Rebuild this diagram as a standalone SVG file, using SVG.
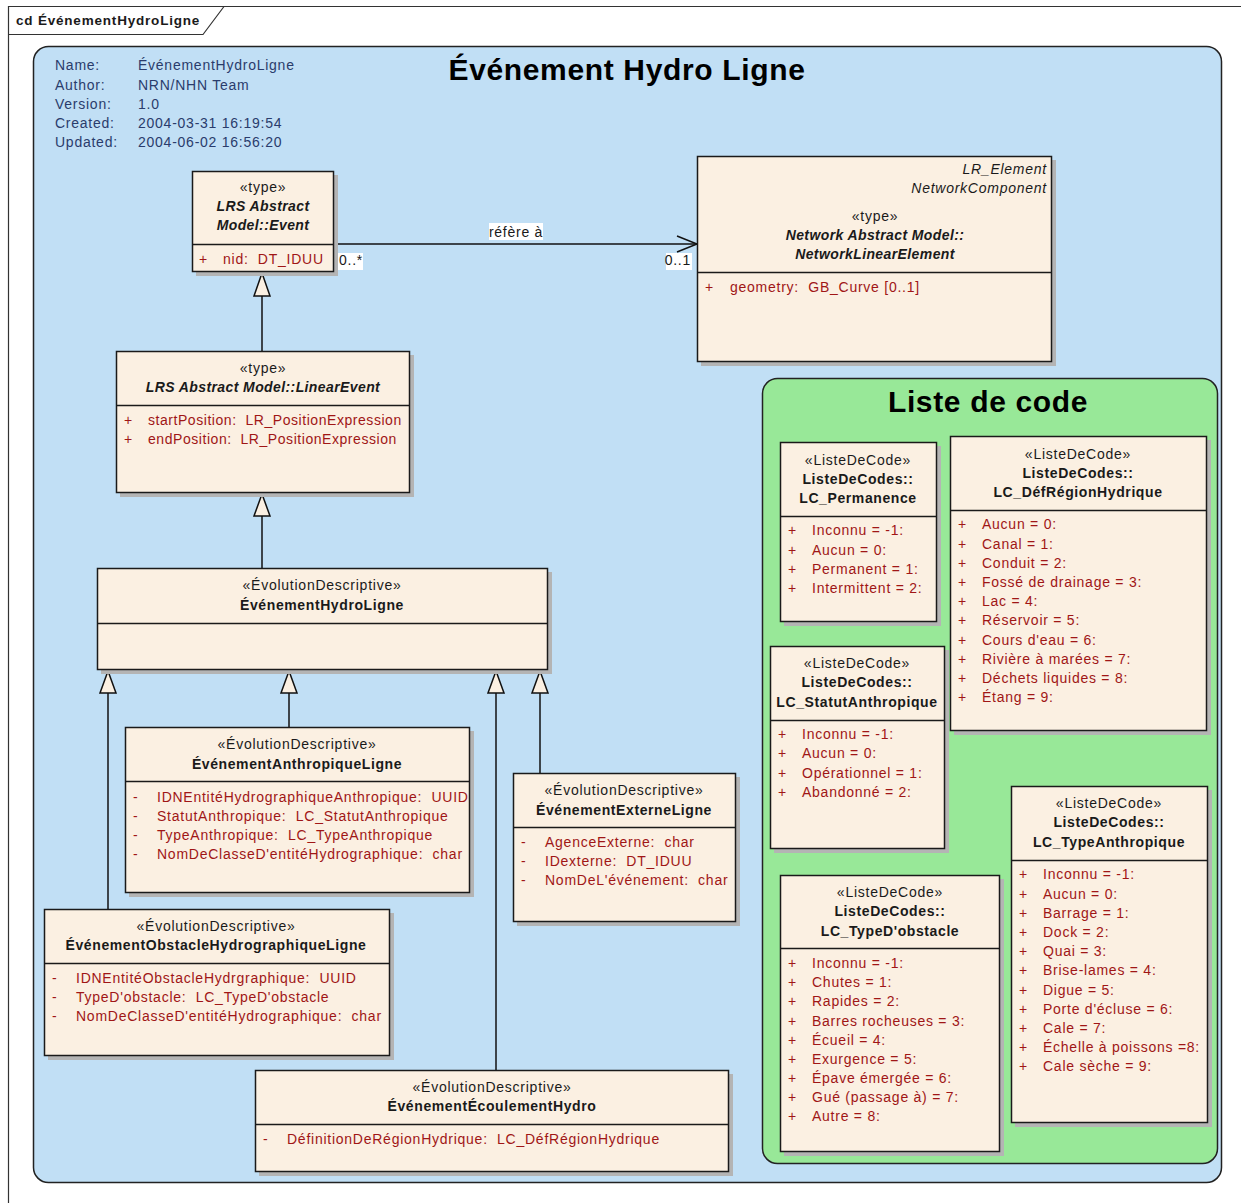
<svg xmlns="http://www.w3.org/2000/svg" width="1241" height="1203" viewBox="0 0 1241 1203">
<style>
text{font-family:"Liberation Sans",Arial,sans-serif;font-size:14px;fill:#1a1a1a;white-space:pre;letter-spacing:0.75px}
.meta{fill:#2a3c6c}
.ttl{font-size:30px;font-weight:bold;fill:#000;letter-spacing:0.65px}
.c{text-anchor:middle}
.r{text-anchor:end}
.b{font-weight:bold;letter-spacing:0.6px}
.bi{font-weight:bold;font-style:italic;letter-spacing:0.4px}
.i{font-style:italic}
.a{fill:#a01616}
.tight{letter-spacing:0.55px}
.box{fill:#fbf0e2;stroke:#1a1a1a;stroke-width:1.5}
.sh{fill:#b4b4b4}
.div{stroke:#1a1a1a;stroke-width:1.5}
.ln{stroke:#111;stroke-width:1.5;fill:none}
.tri{fill:#fbf0e2;stroke:#111;stroke-width:1.5}
.lbl{fill:#fff}
</style>
<rect x="0" y="0" width="1241" height="1203" fill="#fff"/>
<!-- frame -->
<g id="frame">
<path d="M8.5,1203 V6.5 H1241" fill="none" stroke="#333" stroke-width="1.2"/>
<path d="M8.5,34.5 H203 L224,6.5" fill="none" stroke="#333" stroke-width="1.2"/>
<text x="16" y="25" class="b" style="font-size:13.5px;letter-spacing:0.8px">cd ÉvénementHydroLigne</text>
</g>
<!-- panels -->
<g id="panel-blue">
<rect x="33.5" y="46.5" width="1188" height="1136" rx="15" fill="#c1dff5" stroke="#222" stroke-width="1.5"/>
<text x="627" y="80" class="ttl c">Événement Hydro Ligne</text>
<text x="55" y="70" class="meta">Name:</text><text x="138" y="70" class="meta">ÉvénementHydroLigne</text>
<text x="55" y="90" class="meta">Author:</text><text x="138" y="90" class="meta">NRN/NHN Team</text>
<text x="55" y="109" class="meta">Version:</text><text x="138" y="109" class="meta">1.0</text>
<text x="55" y="128" class="meta">Created:</text><text x="138" y="128" class="meta">2004-03-31 16:19:54</text>
<text x="55" y="147" class="meta">Updated:</text><text x="138" y="147" class="meta">2004-06-02 16:56:20</text>
</g>
<g id="panel-green">
<rect x="762.5" y="378.5" width="455" height="785" rx="15" fill="#98e898" stroke="#222" stroke-width="1.5"/>
<text x="988" y="412" class="ttl c">Liste de code</text>
</g>
<!-- connectors -->
<g id="connectors">
<line x1="334" y1="244" x2="697" y2="244" class="ln"/>
<polyline points="677,236 697,244 677,252" class="ln"/>
<rect x="489" y="223" width="54" height="17" class="lbl"/>
<text x="516" y="237" class="c">réfère à</text>
<rect x="338" y="253" width="25" height="17" class="lbl"/>
<text x="339" y="265">0..*</text>
<rect x="666" y="253" width="26" height="17" class="lbl"/>
<text x="691" y="265" class="r">0..1</text>
<line x1="262" y1="296" x2="262" y2="351" class="ln"/>
<polygon points="262,273 254,296 270,296" class="tri"/>
<line x1="262" y1="516" x2="262" y2="568" class="ln"/>
<polygon points="262,494 254,516 270,516" class="tri"/>
<line x1="108" y1="693" x2="108" y2="909" class="ln"/>
<polygon points="108,671 100,693 116,693" class="tri"/>
<line x1="289" y1="693" x2="289" y2="727" class="ln"/>
<polygon points="289,671 281,693 297,693" class="tri"/>
<line x1="496" y1="693" x2="496" y2="1070" class="ln"/>
<polygon points="496,671 488,693 504,693" class="tri"/>
<line x1="540" y1="693" x2="540" y2="773" class="ln"/>
<polygon points="540,671 532,693 548,693" class="tri"/>
</g>
<!-- nodes -->
<g id="event">
<rect x="196" y="175" width="142" height="101" class="sh"/>
<rect x="192.5" y="171.5" width="141" height="100" class="box"/>
<line x1="192.5" y1="244.5" x2="333.5" y2="244.5" class="div"/>
<text x="263" y="192" class="c">«type»</text>
<text x="263" y="211" class="c bi">LRS Abstract</text>
<text x="263" y="230" class="c bi">Model::Event</text>
<text x="199" y="264" class="a">+</text><text x="223" y="264" class="a">nid:  DT_IDUU</text>
</g>
<g id="network-linear-element">
<rect x="701" y="160" width="355" height="206" class="sh"/>
<rect x="697.5" y="156.5" width="354" height="205" class="box"/>
<line x1="697.5" y1="272.5" x2="1051.5" y2="272.5" class="div"/>
<text x="1047" y="174" class="r i">LR_Element</text>
<text x="1047" y="193" class="r i">NetworkComponent</text>
<text x="875" y="221" class="c">«type»</text>
<text x="875" y="240" class="c bi">Network Abstract Model::</text>
<text x="875" y="259" class="c bi">NetworkLinearElement</text>
<text x="705" y="292" class="a">+</text><text x="730" y="292" class="a">geometry:  GB_Curve [0..1]</text>
</g>
<g id="linear-event">
<rect x="120" y="355" width="294" height="142" class="sh"/>
<rect x="116.5" y="351.5" width="293" height="141" class="box"/>
<line x1="116.5" y1="405.5" x2="409.5" y2="405.5" class="div"/>
<text x="263" y="373" class="c">«type»</text>
<text x="263" y="392" class="c bi">LRS Abstract Model::LinearEvent</text>
<text x="124" y="425" class="a">+</text><text x="148" y="425" class="a tight">startPosition:  LR_PositionExpression</text>
<text x="124" y="444" class="a">+</text><text x="148" y="444" class="a tight">endPosition:  LR_PositionExpression</text>
</g>
<g id="evenement-hydro-ligne">
<rect x="101" y="572" width="451" height="102" class="sh"/>
<rect x="97.5" y="568.5" width="450" height="101" class="box"/>
<line x1="97.5" y1="623.5" x2="547.5" y2="623.5" class="div"/>
<text x="322" y="590" class="c">«ÉvolutionDescriptive»</text>
<text x="322" y="610" class="c b">ÉvénementHydroLigne</text>
</g>
<g id="evenement-anthropique-ligne">
<rect x="129" y="731" width="345" height="166" class="sh"/>
<rect x="125.5" y="727.5" width="344" height="165" class="box"/>
<line x1="125.5" y1="781.5" x2="469.5" y2="781.5" class="div"/>
<text x="297" y="749" class="c">«ÉvolutionDescriptive»</text>
<text x="297" y="769" class="c b">ÉvénementAnthropiqueLigne</text>
<text x="133" y="802" class="a">-</text><text x="157" y="802" class="a">IDNEntitéHydrographiqueAnthropique:  UUID</text>
<text x="133" y="821" class="a">-</text><text x="157" y="821" class="a">StatutAnthropique:  LC_StatutAnthropique</text>
<text x="133" y="840" class="a">-</text><text x="157" y="840" class="a">TypeAnthropique:  LC_TypeAnthropique</text>
<text x="133" y="859" class="a">-</text><text x="157" y="859" class="a">NomDeClasseD'entitéHydrographique:  char</text>
</g>
<g id="evenement-externe-ligne">
<rect x="517" y="777" width="223" height="149" class="sh"/>
<rect x="513.5" y="773.5" width="222" height="148" class="box"/>
<line x1="513.5" y1="827.5" x2="735.5" y2="827.5" class="div"/>
<text x="624" y="795" class="c">«ÉvolutionDescriptive»</text>
<text x="624" y="815" class="c b">ÉvénementExterneLigne</text>
<text x="521" y="847" class="a">-</text><text x="545" y="847" class="a">AgenceExterne:  char</text>
<text x="521" y="866" class="a">-</text><text x="545" y="866" class="a">IDexterne:  DT_IDUU</text>
<text x="521" y="885" class="a">-</text><text x="545" y="885" class="a">NomDeL'événement:  char</text>
</g>
<g id="evenement-obstacle-hydrographique-ligne">
<rect x="48" y="913" width="346" height="147" class="sh"/>
<rect x="44.5" y="909.5" width="345" height="146" class="box"/>
<line x1="44.5" y1="963.5" x2="389.5" y2="963.5" class="div"/>
<text x="216" y="931" class="c">«ÉvolutionDescriptive»</text>
<text x="216" y="950" class="c b">ÉvénementObstacleHydrographiqueLigne</text>
<text x="52" y="983" class="a">-</text><text x="76" y="983" class="a">IDNEntitéObstacleHydrgraphique:  UUID</text>
<text x="52" y="1002" class="a">-</text><text x="76" y="1002" class="a">TypeD'obstacle:  LC_TypeD'obstacle</text>
<text x="52" y="1021" class="a">-</text><text x="76" y="1021" class="a">NomDeClasseD'entitéHydrographique:  char</text>
</g>
<g id="evenement-ecoulement-hydro">
<rect x="259" y="1074" width="474" height="102" class="sh"/>
<rect x="255.5" y="1070.5" width="473" height="101" class="box"/>
<line x1="255.5" y1="1124.5" x2="728.5" y2="1124.5" class="div"/>
<text x="492" y="1092" class="c">«ÉvolutionDescriptive»</text>
<text x="492" y="1111" class="c b">ÉvénementÉcoulementHydro</text>
<text x="263" y="1144" class="a">-</text><text x="287" y="1144" class="a">DéfinitionDeRégionHydrique:  LC_DéfRégionHydrique</text>
</g>
<g id="lc-permanence">
<rect x="784" y="446" width="157" height="180" class="sh"/>
<rect x="780.5" y="442.5" width="156" height="179" class="box"/>
<line x1="780.5" y1="516.5" x2="936.5" y2="516.5" class="div"/>
<text x="858" y="465" class="c">«ListeDeCode»</text>
<text x="858" y="484" class="c b">ListeDeCodes::</text>
<text x="858" y="503" class="c b">LC_Permanence</text>
<text x="788" y="535" class="a">+</text><text x="812" y="535" class="a">Inconnu = -1:</text>
<text x="788" y="555" class="a">+</text><text x="812" y="555" class="a">Aucun = 0:</text>
<text x="788" y="574" class="a">+</text><text x="812" y="574" class="a">Permanent = 1:</text>
<text x="788" y="593" class="a">+</text><text x="812" y="593" class="a">Intermittent = 2:</text>
</g>
<g id="lc-def-region-hydrique">
<rect x="954" y="440" width="257" height="295" class="sh"/>
<rect x="950.5" y="436.5" width="256" height="294" class="box"/>
<line x1="950.5" y1="510.5" x2="1206.5" y2="510.5" class="div"/>
<text x="1078" y="459" class="c">«ListeDeCode»</text>
<text x="1078" y="478" class="c b">ListeDeCodes::</text>
<text x="1078" y="497" class="c b">LC_DéfRégionHydrique</text>
<text x="958" y="529" class="a">+</text><text x="982" y="529" class="a">Aucun = 0:</text>
<text x="958" y="549" class="a">+</text><text x="982" y="549" class="a">Canal = 1:</text>
<text x="958" y="568" class="a">+</text><text x="982" y="568" class="a">Conduit = 2:</text>
<text x="958" y="587" class="a">+</text><text x="982" y="587" class="a">Fossé de drainage = 3:</text>
<text x="958" y="606" class="a">+</text><text x="982" y="606" class="a">Lac = 4:</text>
<text x="958" y="625" class="a">+</text><text x="982" y="625" class="a">Réservoir = 5:</text>
<text x="958" y="645" class="a">+</text><text x="982" y="645" class="a">Cours d'eau = 6:</text>
<text x="958" y="664" class="a">+</text><text x="982" y="664" class="a">Rivière à marées = 7:</text>
<text x="958" y="683" class="a">+</text><text x="982" y="683" class="a">Déchets liquides = 8:</text>
<text x="958" y="702" class="a">+</text><text x="982" y="702" class="a">Étang = 9:</text>
</g>
<g id="lc-statut-anthropique">
<rect x="774" y="650" width="175" height="203" class="sh"/>
<rect x="770.5" y="646.5" width="174" height="202" class="box"/>
<line x1="770.5" y1="720.5" x2="944.5" y2="720.5" class="div"/>
<text x="857" y="668" class="c">«ListeDeCode»</text>
<text x="857" y="687" class="c b">ListeDeCodes::</text>
<text x="857" y="707" class="c b">LC_StatutAnthropique</text>
<text x="778" y="739" class="a">+</text><text x="802" y="739" class="a">Inconnu = -1:</text>
<text x="778" y="758" class="a">+</text><text x="802" y="758" class="a">Aucun = 0:</text>
<text x="778" y="778" class="a">+</text><text x="802" y="778" class="a">Opérationnel = 1:</text>
<text x="778" y="797" class="a">+</text><text x="802" y="797" class="a">Abandonné = 2:</text>
</g>
<g id="lc-type-anthropique">
<rect x="1015" y="790" width="197" height="337" class="sh"/>
<rect x="1011.5" y="786.5" width="196" height="336" class="box"/>
<line x1="1011.5" y1="860.5" x2="1207.5" y2="860.5" class="div"/>
<text x="1109" y="808" class="c">«ListeDeCode»</text>
<text x="1109" y="827" class="c b">ListeDeCodes::</text>
<text x="1109" y="847" class="c b">LC_TypeAnthropique</text>
<text x="1019" y="879" class="a">+</text><text x="1043" y="879" class="a">Inconnu = -1:</text>
<text x="1019" y="899" class="a">+</text><text x="1043" y="899" class="a">Aucun = 0:</text>
<text x="1019" y="918" class="a">+</text><text x="1043" y="918" class="a">Barrage = 1:</text>
<text x="1019" y="937" class="a">+</text><text x="1043" y="937" class="a">Dock = 2:</text>
<text x="1019" y="956" class="a">+</text><text x="1043" y="956" class="a">Quai = 3:</text>
<text x="1019" y="975" class="a">+</text><text x="1043" y="975" class="a">Brise-lames = 4:</text>
<text x="1019" y="995" class="a">+</text><text x="1043" y="995" class="a">Digue = 5:</text>
<text x="1019" y="1014" class="a">+</text><text x="1043" y="1014" class="a">Porte d'écluse = 6:</text>
<text x="1019" y="1033" class="a">+</text><text x="1043" y="1033" class="a">Cale = 7:</text>
<text x="1019" y="1052" class="a">+</text><text x="1043" y="1052" class="a">Échelle à poissons =8:</text>
<text x="1019" y="1071" class="a">+</text><text x="1043" y="1071" class="a">Cale sèche = 9:</text>
</g>
<g id="lc-type-obstacle">
<rect x="784" y="879" width="220" height="277" class="sh"/>
<rect x="780.5" y="875.5" width="219" height="276" class="box"/>
<line x1="780.5" y1="948.5" x2="999.5" y2="948.5" class="div"/>
<text x="890" y="897" class="c">«ListeDeCode»</text>
<text x="890" y="916" class="c b">ListeDeCodes::</text>
<text x="890" y="936" class="c b">LC_TypeD'obstacle</text>
<text x="788" y="968" class="a">+</text><text x="812" y="968" class="a">Inconnu = -1:</text>
<text x="788" y="987" class="a">+</text><text x="812" y="987" class="a">Chutes = 1:</text>
<text x="788" y="1006" class="a">+</text><text x="812" y="1006" class="a">Rapides = 2:</text>
<text x="788" y="1026" class="a">+</text><text x="812" y="1026" class="a">Barres rocheuses = 3:</text>
<text x="788" y="1045" class="a">+</text><text x="812" y="1045" class="a">Écueil = 4:</text>
<text x="788" y="1064" class="a">+</text><text x="812" y="1064" class="a">Exurgence = 5:</text>
<text x="788" y="1083" class="a">+</text><text x="812" y="1083" class="a">Épave émergée = 6:</text>
<text x="788" y="1102" class="a">+</text><text x="812" y="1102" class="a">Gué (passage à) = 7:</text>
<text x="788" y="1121" class="a">+</text><text x="812" y="1121" class="a">Autre = 8:</text>
</g>
</svg>
